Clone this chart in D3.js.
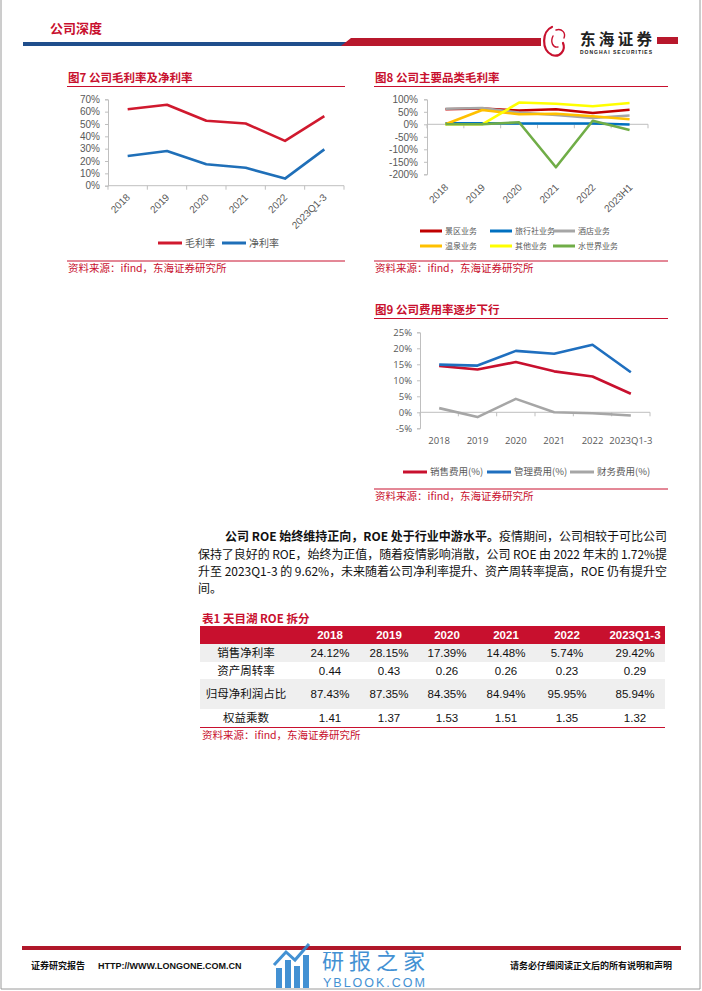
<!DOCTYPE html>
<html>
<head>
<meta charset="utf-8">
<script src="https://cdn.jsdelivr.net/npm/d3@7"></script>
<style>
  body { margin: 0; background: #fff; }
  svg { display: block; font-family: "Liberation Sans", "Noto Sans CJK SC", sans-serif; }
</style>
</head>
<body>
<div id="page"></div>
<script>
// ---- data ----
const years7 = ["2018", "2019", "2020", "2021", "2022", "2023Q1-3"];
const grossMargin = [62.0, 65.6, 52.6, 50.4, 36.3, 56.3];
const netMargin = [24.12, 28.15, 17.39, 14.48, 5.74, 29.42];

const years8 = ["2018", "2019", "2020", "2021", "2022", "2023H1"];
const segNames = ["景区业务", "旅行社业务", "酒店业务", "温泉业务", "其他业务", "水世界业务"];
const scenicGM = [60, 63, 55, 60, 45, 58];
const travelGM = [4, 4, 3, 3, 3, -1];
const hotelGM = [62, 65, 47, 37, 25, 35];
const springGM = [0, 57, 40, 42, 32, 20];
const otherGM = [0, 0, 87, 82, 72, 85];
const waterGM = [0, 0, 8, -172, 14, -23];

const years9 = ["2018", "2019", "2020", "2021", "2022", "2023Q1-3"];
const sellRate = [14.5, 13.4, 15.7, 12.8, 11.2, 5.8];
const adminRate = [14.9, 14.6, 19.2, 18.3, 21.1, 12.5];
const finRate = [1.3, -1.5, 4.2, 0.0, -0.3, -1.0];

const tableYears = ["2018", "2019", "2020", "2021", "2022", "2023Q1-3"];
const tableLabels = ["销售净利率", "资产周转率", "归母净利润占比", "权益乘数"];
const rowNetMargin = ["24.12%", "28.15%", "17.39%", "14.48%", "5.74%", "29.42%"];
const rowTurnover = ["0.44", "0.43", "0.26", "0.26", "0.23", "0.29"];
const rowParentShare = ["87.43%", "87.35%", "84.35%", "84.94%", "95.95%", "85.94%"];
const rowLeverage = ["1.41", "1.37", "1.53", "1.51", "1.35", "1.32"];

const RED = "#c8102e";
const GRAY_TXT = "#595959";
const AXIS = "#bfbfbf";

const svg = d3.select("#page").append("svg").attr("width", 702).attr("height", 991);
svg.append("rect").attr("width", 702).attr("height", 991).attr("fill", "#fff");

// page border
svg.append("path").attr("d", "M1,0V989H700V0").attr("fill", "none").attr("stroke", "#9a9a9a");

// ---- header ----
svg.append("text").attr("x", 50).attr("y", 33).attr("fill", RED)
  .attr("font-size", 13).attr("font-weight", "bold").attr("font-family", "Noto Sans CJK SC")
  .text("公司深度");
svg.append("rect").attr("x", 23).attr("y", 42).attr("width", 325).attr("height", 4).attr("fill", "#1f4e8c");
svg.append("path").attr("d", "M341,46L351,38H541V46Z").attr("fill", "#b8182c");
svg.append("rect").attr("x", 657).attr("y", 37).attr("width", 21).attr("height", 7).attr("fill", "#b8182c");
// logo swirl
const logo = svg.append("g").attr("fill", "none").attr("stroke", "#c8102e").attr("stroke-linecap", "round");
logo.append("path").attr("d", "M552,27C542,31 541,50 552,55C560,58 566,50 563,43").attr("stroke-width", 2.2);
logo.append("path").attr("d", "M556,30C562,28 566,33 564,38M553,36C550,42 553,48 558,47").attr("stroke-width", 1.4);
svg.append("text").attr("x", 580).attr("y", 45).attr("font-size", 15.5).attr("font-weight", "bold")
  .attr("font-family", "Noto Sans CJK SC").attr("fill", "#222").attr("textLength", 72).text("东海证券");
svg.append("text").attr("x", 580).attr("y", 53.5).attr("font-size", 5).attr("font-weight", "bold")
  .attr("fill", "#222").attr("textLength", 72).text("DONGHAI SECURITIES");

// ---- helpers ----
function figTitle(x, y, w, text) {
  svg.append("text").attr("x", x).attr("y", y).attr("fill", RED).attr("font-size", 11.5)
    .attr("font-weight", "bold").attr("font-family", "Noto Sans CJK SC").text(text);
  svg.append("line").attr("x1", x - 1).attr("x2", x - 1 + w).attr("y1", y + 4.5).attr("y2", y + 4.5)
    .attr("stroke", RED).attr("stroke-width", 1);
}
function figSource(x, y, w) {
  svg.append("line").attr("x1", x - 1).attr("x2", x - 1 + w).attr("y1", y).attr("y2", y)
    .attr("stroke", RED).attr("stroke-width", 1);
  svg.append("text").attr("x", x).attr("y", y + 11).attr("fill", RED).attr("font-size", 10.5)
    .attr("font-family", "Noto Sans CJK SC").text("资料来源：ifind，东海证券研究所");
}

function lineChart(o) {
  const g = svg.append("g");
  const x = d3.scaleBand().domain(o.cats).range([o.x0, o.x1]);
  const y = d3.scaleLinear().domain(o.domain).range([o.yBottom, o.yTop]);

  const yAxis = g.append("g").attr("transform", `translate(${o.x0},0)`)
    .call(d3.axisLeft(y).tickValues(o.ticks).tickSize(3).tickPadding(o.pad).tickFormat(d => d + "%"));
  yAxis.select(".domain").attr("stroke", AXIS);
  yAxis.selectAll(".tick line").attr("stroke", AXIS);
  yAxis.selectAll("text").attr("fill", GRAY_TXT).attr("font-size", o.fs).attr("font-family", o.font);

  // category axis at zero line
  const y0 = y(0);
  g.append("line").attr("x1", o.x0).attr("x2", o.x1).attr("y1", y0).attr("y2", y0).attr("stroke", AXIS);
  g.selectAll(".ctick").data(d3.range(o.cats.length + 1)).join("line")
    .attr("x1", i => o.x0 + i * x.step()).attr("x2", i => o.x0 + i * x.step())
    .attr("y1", y0).attr("y2", y0 + 4).attr("stroke", AXIS);

  const cx = c => x(c) + x.bandwidth() / 2;
  if (o.rotate) {
    g.selectAll(".clab").data(o.cats).join("text")
      .attr("transform", c => `translate(${cx(c) + o.lx},${o.ly}) rotate(-45)`)
      .attr("text-anchor", "end").attr("fill", GRAY_TXT).attr("font-size", o.fs)
      .attr("font-family", o.font).text(c => c);
  } else {
    g.selectAll(".clab").data(o.cats).join("text")
      .attr("x", c => cx(c)).attr("y", o.ly).attr("text-anchor", "middle")
      .attr("fill", GRAY_TXT).attr("font-size", o.fs).attr("font-family", o.font).text(c => c);
  }

  const line = d3.line().x((d, i) => cx(o.cats[i])).y(d => y(d));
  g.selectAll(".series").data(o.series).join("path")
    .attr("d", s => line(s.values)).attr("fill", "none")
    .attr("stroke", s => s.color).attr("stroke-width", o.sw).attr("stroke-linejoin", "round");

  // legend
  const lg = g.selectAll(".leg").data(o.series).join("g")
    .attr("transform", (s, i) => `translate(${o.legend[i][0]},${o.legend[i][1]})`);
  lg.append("line").attr("x1", 0).attr("x2", o.legLen).attr("stroke", s => s.color).attr("stroke-width", 3);
  lg.append("text").attr("x", o.legLen + 3).attr("y", o.legFs * 0.36).attr("fill", GRAY_TXT)
    .attr("font-size", o.legFs).attr("font-family", "Noto Sans CJK SC").text(s => s.name);
}

// ---- figure 7 ----
figTitle(68, 82, 278, "图7  公司毛利率及净利率");
lineChart({
  cats: years7, x0: 108, x1: 344, yTop: 99.3, yBottom: 185.7, domain: [0, 70],
  ticks: d3.range(0, 71, 10), pad: 5, fs: 10, font: "Liberation Sans",
  rotate: true, lx: 3, ly: 198, sw: 2.6,
  series: [
    { name: "毛利率", values: grossMargin, color: "#d0192e" },
    { name: "净利率", values: netMargin, color: "#1f6fb8" }
  ],
  legend: [[158, 243], [222, 243]], legLen: 24, legFs: 10
});
figSource(68, 261, 278);

// ---- figure 8 ----
figTitle(375, 82, 294, "图8  公司主要品类毛利率");
lineChart({
  cats: years8, x0: 427, x1: 648, yTop: 99.3, yBottom: 174.3, domain: [-200, 100],
  ticks: d3.range(-200, 101, 50), pad: 6, fs: 10, font: "Liberation Sans",
  rotate: true, lx: 3.5, ly: 188, sw: 2.6,
  series: [
    { name: segNames[0], values: scenicGM, color: "#c00000" },
    { name: segNames[1], values: travelGM, color: "#0070c0" },
    { name: segNames[2], values: hotelGM, color: "#a6a6a6" },
    { name: segNames[3], values: springGM, color: "#ffc000" },
    { name: segNames[4], values: otherGM, color: "#ffff00" },
    { name: segNames[5], values: waterGM, color: "#70ad47" }
  ],
  legend: [[420, 231], [490, 231], [553, 231], [420, 246], [490, 246], [553, 246]], legLen: 22, legFs: 8
});
figSource(375, 261, 294);

// ---- figure 9 ----
figTitle(375, 314, 294, "图9  公司费用率逐步下行");
lineChart({
  cats: years9, x0: 420, x1: 650, yTop: 332.3, yBottom: 428.3, domain: [-5, 25],
  ticks: d3.range(-5, 26, 5), pad: 5, fs: 9.5, font: "Open Sans",
  rotate: false, ly: 443.5, sw: 2.6,
  series: [
    { name: "销售费用(%)", values: sellRate, color: "#c8102e" },
    { name: "管理费用(%)", values: adminRate, color: "#1f6fbf" },
    { name: "财务费用(%)", values: finRate, color: "#a6a6a6" }
  ],
  legend: [[403, 472], [487, 472], [570, 472]], legLen: 24, legFs: 9.5
});
figSource(375, 489, 294);

// ---- paragraph ----
const para = svg.append("g").attr("font-size", 12).attr("font-family", "Noto Sans CJK SC").attr("fill", "#111");
const p1 = para.append("text").attr("x", 225).attr("y", 541).attr("textLength", 442).attr("lengthAdjust", "spacing");
p1.append("tspan").attr("font-weight", "bold").text("公司 ROE 始终维持正向，ROE 处于行业中游水平。");
p1.append("tspan").text("疫情期间，公司相较于可比公司");
para.append("text").attr("x", 198).attr("y", 558.5).attr("textLength", 469).attr("lengthAdjust", "spacing")
  .text("保持了良好的 ROE，始终为正值，随着疫情影响消散，公司 ROE 由 2022 年末的 1.72%提");
para.append("text").attr("x", 198).attr("y", 576).attr("textLength", 469).attr("lengthAdjust", "spacing")
  .text("升至 2023Q1-3 的 9.62%，未来随着公司净利率提升、资产周转率提高，ROE 仍有提升空");
para.append("text").attr("x", 198).attr("y", 593).text("间。");

// ---- table ----
svg.append("text").attr("x", 202).attr("y", 623).attr("fill", RED).attr("font-size", 11.5)
  .attr("font-weight", "bold").attr("font-family", "Noto Sans CJK SC").text("表1  天目湖 ROE 拆分");
const colX = d3.scaleOrdinal().domain(tableYears).range([330, 389, 447, 506, 567, 635]);
svg.append("rect").attr("x", 200).attr("y", 626).attr("width", 465).attr("height", 18).attr("fill", "#c8102e");
svg.selectAll(".th").data(tableYears).join("text")
  .attr("x", d => colX(d)).attr("y", 639).attr("text-anchor", "middle").attr("fill", "#fff")
  .attr("font-size", 11.5).attr("font-weight", "bold").text(d => d);

const rowData = [rowNetMargin, rowTurnover, rowParentShare, rowLeverage];
const rowTop = [644, 662, 679, 709];
const rowH = [18, 17, 30, 18];
rowData.forEach((vals, r) => {
  if (r % 2 === 0) {
    svg.append("rect").attr("x", 200).attr("y", rowTop[r]).attr("width", 465).attr("height", rowH[r]).attr("fill", "#efefef");
  }
  const cy = rowTop[r] + rowH[r] / 2 + 4.2;
  svg.append("text").attr("x", 246).attr("y", cy).attr("text-anchor", "middle").attr("fill", "#111")
    .attr("font-size", 11.5).attr("font-family", "Noto Sans CJK SC").text(tableLabels[r]);
  svg.selectAll(null).data(vals).join("text")
    .attr("x", (d, i) => colX(tableYears[i])).attr("y", cy).attr("text-anchor", "middle")
    .attr("fill", "#111").attr("font-size", 11.5).text(d => d);
});
svg.append("line").attr("x1", 200).attr("x2", 665).attr("y1", 727.5).attr("y2", 727.5).attr("stroke", RED).attr("stroke-width", 1.2);
svg.append("text").attr("x", 202).attr("y", 739).attr("fill", RED).attr("font-size", 10.5)
  .attr("font-family", "Noto Sans CJK SC").text("资料来源：ifind，东海证券研究所");

// ---- footer ----
svg.append("rect").attr("x", 22).attr("y", 946).attr("width", 659).attr("height", 4).attr("fill", "#b0182a");
svg.append("text").attr("x", 31).attr("y", 969).attr("font-size", 9).attr("font-weight", "bold")
  .attr("font-family", "Noto Sans CJK SC").attr("fill", "#111").text("证券研究报告");
svg.append("text").attr("x", 98).attr("y", 969).attr("font-size", 9).attr("font-weight", "bold")
  .attr("fill", "#111").text("HTTP://WWW.LONGONE.COM.CN");
svg.append("text").attr("x", 672).attr("y", 969).attr("text-anchor", "end").attr("font-size", 9)
  .attr("font-weight", "bold").attr("font-family", "Noto Sans CJK SC").attr("fill", "#111")
  .text("请务必仔细阅读正文后的所有说明和声明");

// watermark
const wm = svg.append("g").attr("fill", "#2f86cf").attr("opacity", 0.9);
[[276, 968, 6, 20], [285, 960, 6, 28], [294, 966, 6, 22], [303, 955, 6, 33]].forEach(b =>
  wm.append("rect").attr("x", b[0]).attr("y", b[1]).attr("width", b[2]).attr("height", b[3]));
wm.append("path").attr("d", "M274,965L286,952L295,960L309,944").attr("fill", "none")
  .attr("stroke", "#2f86cf").attr("stroke-width", 3);
wm.append("text").attr("x", 322).attr("y", 969).attr("font-size", 22).attr("font-family", "Noto Sans CJK SC")
  .attr("textLength", 103).text("研报之家");
wm.append("text").attr("x", 323).attr("y", 987).attr("font-size", 12.5).attr("textLength", 102).text("YBLOOK.COM");
</script>
</body>
</html>
